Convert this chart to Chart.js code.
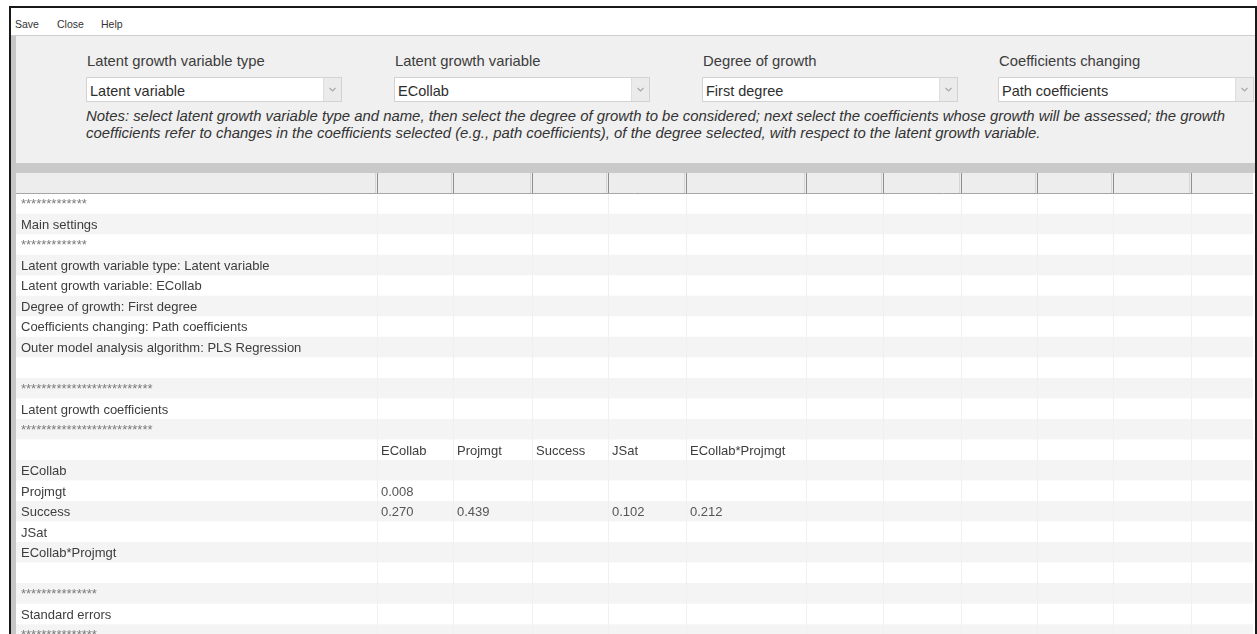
<!DOCTYPE html>
<html>
<head>
<meta charset="utf-8">
<title>Latent growth coefficients</title>
<script src="https://cdn.jsdelivr.net/npm/chart.js"></script>
<style>
  html, body { margin: 0; padding: 0; }
  body { width: 1257px; height: 634px; overflow: hidden; background: #fff; position: relative;
         font-family: "Liberation Sans", Arial, sans-serif; color: #333; }
  .frame { position: absolute; left: 9px; top: 6px; width: 1244px; height: 700px;
           border: 2px solid #181818; border-bottom: none; }
  .menu { position: absolute; top: 18px; font-size: 10.5px; line-height: 12px; color: #333; }
  .panel { position: absolute; left: 11px; top: 35px; width: 1244px; height: 127px;
           background: #f0f0f0; border-top: 1px solid #cdcdcd; overflow: hidden; }
  .strip { position: absolute; left: 11px; top: 36px; width: 5px; height: 600px; background: #c6c6c6; }
  .label { position: absolute; top: 53px; font-size: 14.8px; line-height: 16px; color: #3c3c3c; white-space: nowrap; }
  .combo { position: absolute; top: 77px; width: 254px; height: 23px; background: #fff; border: 1px solid #d2d2d2; }
  .combo .txt { position: absolute; left: 3px; top: 5px; font-size: 14.5px; line-height: 16px; color: #2e2e2e; white-space: nowrap; }
  .combo .arrow { position: absolute; right: 0; top: 0; width: 17px; height: 23px; background: #ebebeb; border-left: 1px solid #dedede; }
  .notes { position: absolute; left: 86px; top: 108px; font-size: 14.9px; line-height: 17px; font-style: italic;
           color: #333; white-space: nowrap; }
  .bar { position: absolute; left: 16px; top: 163px; width: 1239px; height: 10px; background: #c9c9c9; }
  .grid { position: absolute; left: 16px; top: 173px; width: 1237px; height: 472px; }
</style>
</head>
<body>
<div class="frame"></div>
<div id="menu"></div>
<div class="panel"></div>
<div class="strip"></div>
<div id="selectors"></div>
<div class="notes" id="notes"></div>
<div class="bar"></div>
<div class="grid"><canvas id="gridChart"></canvas></div>
<script>
const menuItems = ['Save', 'Close', 'Help'];
const selectorLabels = ['Latent growth variable type', 'Latent growth variable', 'Degree of growth', 'Coefficients changing'];
const selectorValues = ['Latent variable', 'ECollab', 'First degree', 'Path coefficients'];
const notesLines = [
  'Notes: select latent growth variable type and name, then select the degree of growth to be considered; next select the coefficients whose growth will be assessed; the growth',
  'coefficients refer to changes in the coefficients selected (e.g., path coefficients), of the degree selected, with respect to the latent growth variable.'
];

const sectionTitles = ['Main settings', 'Latent growth coefficients', 'Standard errors'];
const settingsLabels = ['Latent growth variable type', 'Latent growth variable', 'Degree of growth', 'Coefficients changing', 'Outer model analysis algorithm'];
const settingsValues = ['Latent variable', 'ECollab', 'First degree', 'Path coefficients', 'PLS Regression'];

const coefVars = ['ECollab', 'Projmgt', 'Success', 'JSat', 'ECollab*Projmgt'];
const ecollabCoefs = [null, null, null, null, null];
const projmgtCoefs = [0.008, null, null, null, null];
const successCoefs = [0.270, 0.439, null, 0.102, 0.212];
const jsatCoefs = [null, null, null, null, null];
const ecollabProjmgtCoefs = [null, null, null, null, null];

// window chrome
const menuX = [15, 57, 101];
document.getElementById('menu').innerHTML = menuItems
  .map((m, i) => `<span class="menu" style="left:${menuX[i]}px">${m}</span>`).join('');

const selX = [86, 394, 702, 998];
document.getElementById('selectors').innerHTML = selectorLabels.map((lab, i) => `
  <div class="label" style="left:${selX[i] + 1}px">${lab}</div>
  <div class="combo" style="left:${selX[i]}px">
    <div class="txt">${selectorValues[i]}</div>
    <div class="arrow"><svg width="17" height="23"><polyline points="5.5,10 8.5,13 11.5,10" fill="none" stroke="#a8a8a8" stroke-width="1.2"/></svg></div>
  </div>`).join('');
document.getElementById('notes').innerHTML = notesLines.join('<br>');

// table rows
const stars = t => '*'.repeat(t.length);
const fmt = v => v == null ? '' : v.toFixed(3);
const tableRows = [[]];
tableRows.push([stars(sectionTitles[0])], [sectionTitles[0]], [stars(sectionTitles[0])]);
settingsLabels.forEach((l, i) => tableRows.push([l + ': ' + settingsValues[i]]));
tableRows.push([]);
tableRows.push([stars(sectionTitles[1])], [sectionTitles[1]], [stars(sectionTitles[1])]);
tableRows.push([''].concat(coefVars));
[ecollabCoefs, projmgtCoefs, successCoefs, jsatCoefs, ecollabProjmgtCoefs]
  .forEach((row, i) => tableRows.push([coefVars[i]].concat(row.map(fmt))));
tableRows.push([]);
tableRows.push([stars(sectionTitles[2])], [sectionTitles[2]], [stars(sectionTitles[2])]);

const tableWidth = 1237;
const colEdges = [0, 361, 437, 516, 592, 670, 790, 867, 945, 1021, 1097, 1175];
const rowKeys = tableRows.map((r, i) => 'r' + i);

const cellText = {
  id: 'cellText',
  afterDatasetsDraw(chart) {
    const ctx = chart.ctx, x = chart.scales.x, y = chart.scales.y;
    const rowH = y.getPixelForValue(1) - y.getPixelForValue(0);
    const top = y.getPixelForValue(0) - rowH / 2;
    const bottom = chart.chartArea.bottom;
    ctx.save();
    // faint column lines in body
    ctx.strokeStyle = '#f0f0f0';
    ctx.lineWidth = 1;
    colEdges.slice(1).forEach(e => {
      const px = Math.round(x.getPixelForValue(e)) + 0.5;
      ctx.beginPath(); ctx.moveTo(px, top + rowH); ctx.lineTo(px, bottom); ctx.stroke();
    });
    // header separators
    colEdges.slice(1).forEach(e => {
      const px = Math.round(x.getPixelForValue(e)) + 0.5;
      ctx.strokeStyle = '#d6d6d6';
      ctx.beginPath(); ctx.moveTo(px - 2, top); ctx.lineTo(px - 2, top + rowH); ctx.stroke();
      ctx.strokeStyle = '#8e8e8e';
      ctx.beginPath(); ctx.moveTo(px, top); ctx.lineTo(px, top + rowH); ctx.stroke();
    });
    ctx.strokeStyle = '#a6a6a6';
    ctx.beginPath(); ctx.moveTo(0, Math.round(top + rowH) - 0.5); ctx.lineTo(chart.width, Math.round(top + rowH) - 0.5); ctx.stroke();
    // cell text
    ctx.font = '13px "Liberation Sans", Arial, sans-serif';
    ctx.textBaseline = 'middle';
    tableRows.forEach((row, r) => {
      const cy = y.getPixelForValue(r);
      row.forEach((txt, c) => {
        if (!txt) return;
        const px = x.getPixelForValue(colEdges[c]) + (c === 0 ? 5 : 4);
        ctx.fillStyle = txt[0] === '*' ? '#7a7a7a' : (c > 0 && r > 13 ? '#555' : '#3d3d3d');
        ctx.fillText(txt, px, cy + 1);
      });
    });
    ctx.restore();
  }
};

new Chart(document.getElementById('gridChart'), {
  type: 'bar',
  data: {
    labels: rowKeys,
    datasets: [{
      data: rowKeys.map(() => [0, tableWidth]),
      backgroundColor: rowKeys.map((k, i) => i === 0 ? '#ededed' : (i % 2 === 0 ? '#f4f4f4' : '#ffffff')),
      borderWidth: 0,
      barPercentage: 1,
      categoryPercentage: 1
    }]
  },
  options: {
    indexAxis: 'y',
    responsive: true,
    maintainAspectRatio: false,
    animation: false,
    layout: { padding: 0 },
    plugins: { legend: { display: false }, tooltip: { enabled: false } },
    scales: {
      x: { type: 'linear', min: 0, max: tableWidth, display: false },
      y: { type: 'category', display: false, offset: true }
    }
  },
  plugins: [cellText]
});
</script>
</body>
</html>
